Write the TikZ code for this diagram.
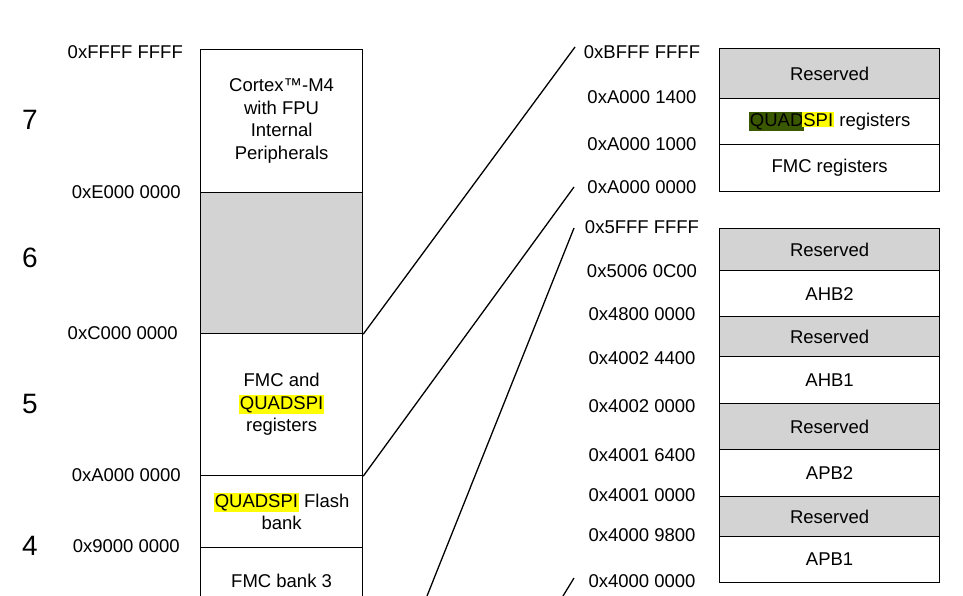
\documentclass[tikz,border=0pt]{standalone}
\usepackage{fontspec}
\setmainfont{Liberation Sans}
\definecolor{resgray}{RGB}{211,211,211}
\definecolor{hlyellow}{RGB}{255,255,0}
\definecolor{hlgreen}{RGB}{58,88,0}
\newcommand{\hly}[1]{{\setlength{\fboxsep}{1pt}\colorbox{hlyellow}{#1}}}
\newcommand{\hlg}[1]{{\setlength{\fboxsep}{1pt}\colorbox{hlgreen}{#1}}}
\tikzset{
  txt/.style={font=\fontsize{18.5}{22.5}\selectfont},
  cell/.style={txt,draw,line width=1.2pt,anchor=north west,align=center,inner sep=0pt,minimum width=162pt},
  regbox/.style={txt,draw,line width=1.2pt,anchor=north west,align=center,inner sep=0pt,minimum width=220pt},
  reserved/.style={fill=resgray},
  addr/.style={txt,inner sep=0pt},
  zone/.style={font=\fontsize{28}{30}\selectfont,inner sep=0pt},
  link/.style={line width=1.3pt}
}
\begin{document}
\begin{tikzpicture}[x=1pt,y=-1pt]

      \clip (0,0) rectangle (963,596);

      % memory map, left column
      \node[cell,minimum height=143pt] (c7) at (200,49) {Cortex™-M4\\with FPU\\Internal\\Peripherals};
      \node[cell,reserved,minimum height=141pt] (c6) at (200,192) {};
      \node[cell,minimum height=142pt] (c5) at (200,333) {FMC and\\\hly{QUADSPI}\\registers};
      \node[cell,minimum height=72pt] (c4) at (200,475) {\hly{QUADSPI} Flash\\bank};
      \node[cell,minimum height=66pt] (c3) at (200,547) {FMC bank 3};

      \begin{scope}[every node/.style={addr,anchor=east}]
        \node (aFFFF) at (183,52)  {0xFFFF FFFF};
        \node (aE000) at (181,192) {0xE000 0000};
        \node (aC000) at (178,333) {0xC000 0000};
        \node (aA000) at (181,475) {0xA000 0000};
        \node (a9000) at (180,546) {0x9000 0000};
      \end{scope}

      \begin{scope}[every node/.style={zone}]
        \node (z7) at (30,120) {7};
        \node (z6) at (30,258) {6};
        \node (z5) at (30,404) {5};
        \node (z4) at (30,546) {4};
      \end{scope}

      % zoom on FMC / QUADSPI registers
      \node[regbox,reserved,minimum height=50pt] (u1) at (719,48)  {\raisebox{-3pt}{Reserved}};
      \node[regbox,minimum height=46pt]          (u2) at (719,98)  {\hlg{QUAD}\kern-2pt\hly{SPI} registers};
      \node[regbox,minimum height=47pt]          (u3) at (719,144) {FMC registers};

      % zoom on peripherals
      \node[regbox,reserved,minimum height=42pt] (p1) at (719,228) {Reserved};
      \node[regbox,minimum height=46pt]          (p2) at (719,270) {AHB2};
      \node[regbox,reserved,minimum height=40pt] (p3) at (719,316) {Reserved};
      \node[regbox,minimum height=47pt]          (p4) at (719,356) {AHB1};
      \node[regbox,reserved,minimum height=46pt] (p5) at (719,403) {Reserved};
      \node[regbox,minimum height=47pt]          (p6) at (719,449) {APB2};
      \node[regbox,reserved,minimum height=40pt] (p7) at (719,496) {Reserved};
      \node[regbox,minimum height=46pt]          (p8) at (719,536) {APB1};

      \begin{scope}[every node/.style={addr}]
        \node (bBFFF) at (642,52)  {0xBFFF FFFF};
        \node (bA014) at (642,97)  {0xA000 1400};
        \node (bA010) at (642,144) {0xA000 1000};
        \node (bA000) at (642,187) {0xA000 0000};
        \node (b5FFF) at (642,227) {0x5FFF FFFF};
        \node (b5006) at (642,271) {0x5006 0C00};
        \node (b4800) at (642,314) {0x4800 0000};
        \node (b4024) at (642,358) {0x4002 4400};
        \node (b4020) at (642,406) {0x4002 0000};
        \node (b4016) at (642,455) {0x4001 6400};
        \node (b4010) at (642,495) {0x4001 0000};
        \node (b4098) at (642,535) {0x4000 9800};
        \node (b4000) at (642,581) {0x4000 0000};
      \end{scope}

      % zoom lines
      \coordinate (e1) at (575,47);
      \coordinate (e2) at (574,187);
      \coordinate (s3) at (427,596);
      \coordinate (e3) at (574,228);
      \coordinate (s4) at (563,596);
      \coordinate (e4) at (574,578);

      \draw[link] (c6.south east) -- (e1);
      \draw[link] (c5.south east) -- (e2);
      \draw[link] (s3) -- (e3);
      \draw[link] (s4) -- (e4);

    \end{tikzpicture}
\end{document}
